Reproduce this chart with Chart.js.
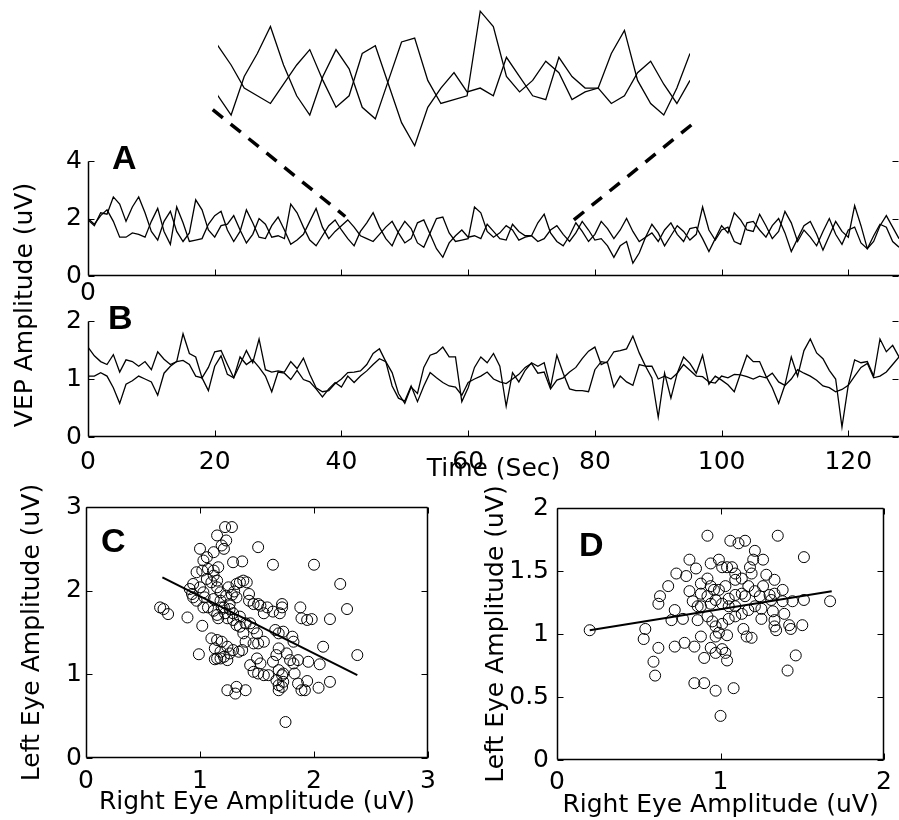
<!DOCTYPE html>
<html>
<head>
<meta charset="utf-8">
<script src="https://cdn.jsdelivr.net/npm/chart.js@4/dist/chart.umd.min.js"></script>
<style>
  body { margin: 0; background: #fff; width: 899px; height: 820px; position: relative; overflow: hidden; font-family: "DejaVu Sans", sans-serif; }
  canvas { position: absolute; }
  .panel { position: absolute; font-family: "Liberation Sans", Arial, sans-serif; font-weight: bold; font-size: 34px; line-height: 34px; color: #000; }
  .ytitle { position: absolute; width: 300px; height: 30px; line-height: 30px; text-align: center; font-size: 25px; color: #000; transform: rotate(-90deg); white-space: nowrap; }
</style>
</head>
<body>
<canvas id="inset" width="510" height="165" style="left:200px;top:0px"></canvas>
<canvas id="chartA" width="899" height="170" style="left:0px;top:140px"></canvas>
<canvas id="chartB" width="899" height="185" style="left:0px;top:300px"></canvas>
<canvas id="chartC" width="450" height="340" style="left:0px;top:480px"></canvas>
<canvas id="chartD" width="443" height="340" style="left:456px;top:480px"></canvas>
<canvas id="overlay" width="899" height="820" style="left:0px;top:0px;pointer-events:none"></canvas>
<div class="ytitle" style="left:-126px;top:290px">VEP Amplitude (uV)</div>
<div class="panel" style="left:112px;top:140px">A</div>
<div class="panel" style="left:108px;top:300px">B</div>
<div class="panel" style="left:101px;top:523px">C</div>
<div class="panel" style="left:579px;top:527px">D</div>
<script>
// samples are one second apart
const sampleStep = 1;
const timeTicks = [0, 20, 40, 60, 80, 100, 120];
const aTicks = [0, 2, 4];
const bTicks = [0, 1, 2];
const cTicks = [0, 1, 2, 3];
const dxTicks = [0, 1, 2];
const dyTicks = [0, 0.5, 1, 1.5, 2];

// panel A, two eyes
const aTrace1 = [1.95,1.75,2.20,2.15,2.75,2.50,1.90,2.40,2.75,2.20,
  1.55,1.25,1.90,2.25,1.55,1.20,1.50,2.65,2.30,1.60,
  1.35,1.75,1.80,2.10,1.60,1.15,1.45,2.00,1.80,1.35,
  1.40,1.30,2.50,2.20,1.70,1.25,1.05,1.40,1.75,1.95,
  1.60,1.30,1.05,1.55,1.85,2.20,1.70,1.30,1.05,1.55,
  1.90,1.65,1.15,1.00,1.50,2.00,2.05,1.50,1.20,1.25,
  1.30,2.40,2.20,1.55,1.35,1.50,1.75,1.60,1.25,1.35,
  1.40,1.85,2.15,1.50,1.20,1.05,1.40,1.85,1.55,1.20,
  1.45,1.90,1.65,1.30,1.60,2.00,1.55,1.20,1.35,1.80,
  1.50,1.05,1.40,1.75,1.55,1.25,1.45,2.40,1.60,1.25,
  1.60,1.70,1.20,1.10,1.85,1.90,1.60,1.35,1.75,2.00,
  1.50,0.85,1.30,1.75,1.90,1.45,0.90,1.40,1.90,1.55,
  1.35,2.45,1.75,0.95,1.20,1.75,2.10,1.70,1.30];
const aTrace2 = [2.00,1.80,2.10,2.30,1.90,1.35,1.35,1.50,1.45,1.35,
  1.90,2.35,1.55,1.10,2.40,1.85,1.20,1.25,1.30,1.80,
  2.10,2.25,1.60,1.20,1.55,2.30,1.85,1.35,1.30,1.75,
  2.05,1.60,1.10,1.25,1.45,1.90,2.35,1.70,1.30,1.55,
  1.75,1.95,1.70,1.40,1.30,1.20,1.45,1.70,1.90,1.50,
  1.15,1.30,1.85,1.95,1.45,0.95,0.65,1.15,1.40,1.60,
  1.35,1.40,1.30,1.80,1.55,1.30,1.25,1.80,1.55,1.40,
  1.40,1.20,1.30,1.60,1.75,1.45,1.20,1.50,1.90,1.60,
  1.25,1.30,1.05,0.65,1.05,1.20,0.45,0.80,1.35,1.50,
  1.20,1.60,1.85,1.45,1.20,1.65,1.70,1.30,0.85,1.30,
  1.75,1.50,2.20,1.95,1.60,1.55,2.15,1.75,1.30,1.55,
  2.25,1.85,1.20,1.60,1.35,1.05,1.55,2.00,1.45,1.10,
  1.60,1.70,1.15,0.95,1.40,1.80,1.70,1.20,1.00];

// panel B
const bTrace1 = [1.55,1.40,1.30,1.25,1.42,1.12,1.33,1.30,1.22,1.30,
  1.16,1.47,1.34,1.25,1.30,1.78,1.44,1.38,1.02,1.20,
  1.47,1.49,1.25,1.02,1.25,1.49,1.28,1.69,1.16,1.12,
  1.14,1.12,1.30,1.18,1.36,1.08,0.85,0.78,0.80,0.92,
  1.00,1.11,1.12,1.14,1.25,1.44,1.52,1.30,1.11,0.75,
  0.58,0.86,0.75,1.20,1.41,1.45,1.55,1.38,1.38,0.61,
  0.85,1.20,1.38,1.28,1.44,1.22,0.53,1.11,0.95,1.15,
  1.28,1.22,1.28,0.86,1.41,1.10,0.83,0.80,0.80,0.78,
  1.16,1.30,1.28,0.86,1.05,0.95,0.89,1.25,1.22,1.02,
  0.34,1.10,0.67,1.10,1.38,1.27,1.10,1.41,0.91,1.05,
  0.98,0.90,0.78,1.10,1.41,1.30,1.30,1.05,0.85,0.58,
  0.90,1.38,1.05,1.49,1.69,1.45,1.35,1.15,1.00,0.17,
  0.90,1.33,1.28,1.30,1.05,1.69,1.47,1.58,1.38];
const bTrace2 = [1.05,1.05,1.11,1.05,0.85,0.58,0.91,0.97,1.05,1.00,
  0.95,0.72,1.10,1.22,1.30,1.32,1.25,1.05,1.02,0.80,
  1.22,1.40,1.08,1.02,1.38,1.25,1.33,1.20,1.05,0.78,
  1.12,1.10,0.99,1.15,0.99,0.95,0.83,0.69,0.83,0.94,
  0.86,1.05,0.94,1.05,1.14,1.25,1.35,1.30,0.88,0.67,
  0.62,0.88,0.61,0.88,1.11,1.02,0.94,0.88,0.86,0.72,
  0.94,1.00,1.05,1.12,1.00,0.95,0.92,1.00,1.08,1.20,
  1.27,1.10,1.12,0.83,0.98,1.02,1.12,1.20,1.35,1.48,
  1.55,1.25,1.30,1.47,1.49,1.52,1.74,1.45,1.22,1.22,
  1.00,1.05,1.00,1.10,1.25,1.15,1.05,1.04,0.95,0.93,
  1.05,1.02,1.08,1.07,1.04,1.00,1.05,1.02,1.10,0.95,
  0.89,1.00,1.16,1.10,1.05,0.98,0.88,0.85,0.78,0.82,
  0.89,1.05,1.20,1.27,1.02,1.05,1.12,1.25,1.38];

// panel C scatter: right eye vs left eye (panel A data)
const cRight = [0.65,0.68,0.72,0.89,1.02,0.99,1.00,1.15,1.22,1.28,1.23,1.19,1.21,1.12,1.03,1.06,0.97,1.02,1.07,1.12,
  1.16,1.29,1.37,1.51,1.64,2.00,2.23,2.29,2.14,1.88,1.89,1.94,1.98,2.08,2.38,1.95,2.05,2.14,2.04,1.94,
  1.89,1.92,1.86,1.83,1.75,1.69,1.72,1.73,1.72,1.69,1.60,1.64,1.67,1.69,1.76,1.79,1.82,1.72,1.72,1.70,
  1.59,1.56,1.51,1.43,1.43,1.35,1.38,1.41,1.32,1.25,1.23,1.32,1.26,1.29,1.35,1.40,1.44,1.47,1.50,1.66,
  1.69,1.73,1.81,1.38,1.40,1.47,1.51,1.56,1.50,1.44,1.47,1.51,1.56,1.10,1.15,1.19,1.13,1.18,1.21,1.26,
  1.13,1.18,1.24,1.37,1.24,1.32,1.40,1.31,0.94,0.91,0.93,0.94,1.00,1.03,0.97,1.03,1.07,1.12,1.15,1.16,
  1.18,1.21,1.22,1.24,1.06,1.10,1.15,1.18,1.04,1.12,1.19,1.26,1.29,1.32,1.35,1.12,1.15,1.28,1.30,1.47,
  1.53,1.64,1.82,1.86,1.67,1.69,1.73,1.53,1.29,1.15,1.24,1.34];
const cLeft = [1.80,1.78,1.72,1.68,1.58,1.24,2.50,2.66,2.76,2.76,2.60,2.54,2.50,2.46,2.36,2.40,2.22,2.24,2.26,2.24,
  2.28,2.34,2.35,2.52,2.31,2.31,2.08,1.78,1.66,1.80,1.67,1.65,1.66,1.33,1.23,1.15,1.12,0.91,0.84,0.92,
  0.81,0.81,0.89,1.01,0.43,0.81,0.85,0.91,0.99,1.05,0.99,1.15,1.23,1.31,1.25,1.17,1.39,1.80,1.84,1.73,
  1.80,1.73,1.84,1.96,1.88,2.10,2.12,2.10,2.08,2.04,1.94,1.92,1.84,1.73,1.69,1.61,1.61,1.55,1.49,1.53,
  1.49,1.51,1.45,1.49,1.39,1.37,1.37,1.39,1.19,1.11,1.03,1.01,0.99,1.43,1.41,1.39,1.31,1.27,1.21,1.25,
  1.18,1.19,1.17,1.29,0.81,0.85,0.81,0.77,2.08,2.02,1.96,1.92,2.04,1.98,1.88,1.80,1.80,1.76,1.71,1.67,
  1.88,1.80,1.73,1.67,2.14,2.10,2.04,1.98,1.92,1.90,1.80,1.78,1.65,1.59,1.57,2.18,2.12,1.95,1.99,1.84,
  1.82,1.75,1.13,1.17,0.93,0.87,1.01,1.13,1.29,1.19,1.33,1.27];
const cFitRight = [0.67, 2.38];
const cFitLeft = [2.16, 0.99];

// panel D scatter (panel B data)
const dRight = [0.20,0.54,0.53,0.62,0.59,0.60,0.63,0.62,0.68,0.73,0.79,0.81,0.85,0.72,0.70,0.77,0.72,0.78,0.84,0.88,
  0.84,0.90,0.97,1.08,1.00,0.90,0.94,0.97,1.01,1.03,1.04,0.92,1.06,1.11,1.15,1.21,1.20,1.18,1.19,1.35,
  1.51,1.67,1.51,1.50,1.43,1.42,1.46,1.41,1.38,1.38,1.39,1.33,1.34,1.32,1.33,1.28,1.26,1.30,1.31,1.25,
  0.94,0.99,1.01,1.04,1.07,1.09,0.88,0.92,0.94,0.96,0.99,1.03,0.88,0.92,0.94,0.97,1.01,1.05,1.09,1.13,
  1.15,0.88,0.92,0.95,0.97,1.01,1.05,1.09,1.13,1.17,1.21,0.97,0.99,1.04,1.14,1.16,1.19,1.09,1.13,1.17,
  1.21,1.24,0.86,1.44,1.33,1.26,0.86,1.33,0.83,0.81,1.05,1.09,1.25];
const dLeft = [1.03,1.04,0.96,0.89,0.78,0.67,1.30,1.24,1.38,1.48,1.46,1.59,1.52,1.19,1.11,1.12,0.90,0.93,0.90,0.98,
  0.61,0.61,0.55,0.57,0.35,0.81,0.89,0.85,0.88,0.85,0.79,1.78,1.74,1.72,1.74,1.66,1.59,1.53,1.48,1.78,
  1.61,1.26,1.27,1.07,1.04,1.07,0.83,0.71,1.35,1.26,1.16,1.06,1.03,1.18,1.11,1.47,1.38,1.31,1.27,1.20,
  1.56,1.59,1.53,1.53,1.53,1.48,1.40,1.44,1.38,1.35,1.35,1.38,1.32,1.30,1.24,1.27,1.24,1.28,1.31,1.32,
  1.30,1.22,1.14,1.10,1.06,1.08,1.12,1.14,1.16,1.19,1.22,0.98,1.01,0.99,1.04,0.98,0.97,1.43,1.44,1.38,
  1.34,1.30,1.11,1.26,1.32,1.59,1.22,1.43,1.26,1.34,1.22,1.22,1.12];
const dFitRight = [0.20, 1.68];
const dFitLeft = [1.03, 1.34];

// zoomed window shown in the inset (seconds) and the connector anchors
const insetRange = [41, 77];
const insetY = [0.53, 2.48];
const connInset = [[40.6, 1.12], [77.1, 0.92]];
const connA = [[40.6, 2.07], [76.4, 1.90]];

Chart.defaults.font.family = "'DejaVu Sans', sans-serif";
Chart.defaults.font.size = 25;
Chart.defaults.color = '#000';
Chart.defaults.animation = false;
Chart.defaults.plugins.legend.display = false;
Chart.defaults.plugins.tooltip.enabled = false;

const toXY = arr => arr.map((v, i) => ({ x: i * sampleStep, y: v }));
const pairs = (xs, ys) => xs.map((v, i) => ({ x: v, y: ys[i] }));
const setTicks = vals => s => { s.ticks = vals.map(v => ({ value: v })); };
const plainLabel = v => String(v);

// axis lines and inward tick marks, MATLAB style
function makeFrame(lines, ticks) {
  return {
    id: 'frame',
    afterDraw(chart) {
      const { ctx, chartArea: a } = chart;
      const x = chart.scales.x, y = chart.scales.y;
      const L = Math.round(a.left) + 0.5, R = Math.round(a.right) - 0.5;
      const T = Math.round(a.top) + 0.5, B = Math.round(a.bottom) - 0.5;
      const len = 6;
      ctx.save();
      ctx.strokeStyle = '#000';
      ctx.lineWidth = 1.5;
      ctx.beginPath();
      if (lines.includes('left')) { ctx.moveTo(L, T); ctx.lineTo(L, B); }
      if (lines.includes('bottom')) { ctx.moveTo(L, B); ctx.lineTo(R + 1, B); }
      if (lines.includes('top')) { ctx.moveTo(L, T); ctx.lineTo(R, T); }
      if (lines.includes('right')) { ctx.moveTo(R, T); ctx.lineTo(R, B); }
      ctx.stroke();
      ctx.lineWidth = 1;
      ctx.beginPath();
      x.ticks.forEach(t => {
        const p = Math.round(x.getPixelForValue(t.value)) + 0.5;
        if (ticks.includes('bottom')) { ctx.moveTo(p, B); ctx.lineTo(p, B - len); }
        if (ticks.includes('top')) { ctx.moveTo(p, T); ctx.lineTo(p, T + len); }
      });
      y.ticks.forEach(t => {
        const p = Math.round(y.getPixelForValue(t.value)) + 0.5;
        if (ticks.includes('left')) { ctx.moveTo(L, p); ctx.lineTo(L + len, p); }
        if (ticks.includes('right')) { ctx.moveTo(R, p); ctx.lineTo(R - len, p); }
      });
      ctx.stroke();
      ctx.restore();
    }
  };
}

const traceStyle = { borderColor: '#000', borderWidth: 1.3, pointRadius: 0, tension: 0, fill: false };
const noGrid = { display: false, drawTicks: false };

function timeChart(id, t1, t2, yMax, yTicks, opt) {
  return new Chart(document.getElementById(id), {
    type: 'line',
    data: { datasets: [
      Object.assign({ data: toXY(t1) }, traceStyle),
      Object.assign({ data: toXY(t2) }, traceStyle)
    ] },
    options: {
      responsive: false,
      layout: { autoPadding: false, padding: { top: opt.top, right: 0, bottom: 0, left: 0 } },
      scales: {
        x: {
          type: 'linear', min: 0, max: 128,
          grid: noGrid, border: { display: false },
          afterBuildTicks: setTicks(timeTicks),
          afterFit: s => { s.height = opt.xh; },
          ticks: { padding: opt.xpad, autoSkip: false, maxRotation: 0, callback: opt.xlabel },
          title: opt.xtitle
        },
        y: {
          min: 0, max: yMax,
          grid: noGrid, border: { display: false },
          afterBuildTicks: setTicks(yTicks),
          afterFit: s => { s.width = 88; },
          ticks: { padding: 6, callback: plainLabel }
        }
      }
    },
    plugins: [makeFrame(['left', 'bottom'], ['left', 'bottom', 'right'])]
  });
}

const chartA = timeChart('chartA', aTrace1, aTrace2, 4, aTicks, {
  top: 14, xh: 34, xpad: 2, xlabel: v => (v === 0 ? '0' : ''), xtitle: { display: false }
});
timeChart('chartB', bTrace1, bTrace2, 2, bTicks, {
  top: 16, xh: 48, xpad: 10, xlabel: plainLabel,
  xtitle: { display: true, text: 'Time (Sec)', padding: { top: 0, bottom: 1 } }
});

// inset: enlarged piece of panel A
const inset = new Chart(document.getElementById('inset'), {
  type: 'line',
  data: { datasets: [
    Object.assign({ data: toXY(aTrace1) }, traceStyle),
    Object.assign({ data: toXY(aTrace2) }, traceStyle)
  ] },
  options: {
    responsive: false,
    layout: { autoPadding: false, padding: { top: 5, right: 20, bottom: 10, left: 18 } },
    scales: {
      x: { type: 'linear', display: false, min: insetRange[0], max: insetRange[1] },
      y: { display: false, min: insetY[0], max: insetY[1] }
    }
  }
});

function scatterChart(id, xs, ys, fitX, fitY, o) {
  return new Chart(document.getElementById(id), {
    type: 'scatter',
    data: { datasets: [
      { data: pairs(xs, ys), pointStyle: 'circle', pointRadius: 5.5, borderColor: '#000', borderWidth: 1, backgroundColor: 'rgba(0,0,0,0)' },
      { type: 'line', data: pairs(fitX, fitY), showLine: true, borderColor: '#000', borderWidth: 2, pointRadius: 0 }
    ] },
    options: {
      responsive: false,
      layout: { autoPadding: false, padding: { top: o.top, right: o.right, bottom: 0, left: 0 } },
      scales: {
        x: {
          type: 'linear', min: 0, max: o.xMax,
          grid: noGrid, border: { display: false },
          afterBuildTicks: setTicks(o.xTicks),
          afterFit: s => { s.height = o.xh; },
          ticks: { padding: o.xpad, autoSkip: false, maxRotation: 0, callback: plainLabel },
          title: { display: true, text: 'Right Eye Amplitude (uV)', padding: { top: 0, bottom: o.xtp } }
        },
        y: {
          min: 0, max: o.yMax,
          grid: noGrid, border: { display: false },
          afterBuildTicks: setTicks(o.yTicks),
          afterFit: s => { s.width = o.yw; },
          ticks: { padding: o.ypad, callback: plainLabel },
          title: { display: true, text: 'Left Eye Amplitude (uV)', padding: { top: o.ytp, bottom: 0 } }
        }
      }
    },
    plugins: [makeFrame(['left', 'bottom', 'top', 'right'], ['left', 'bottom', 'top', 'right'])]
  });
}

scatterChart('chartC', cRight, cLeft, cFitRight, cFitLeft, {
  top: 27, right: 22, xMax: 3, yMax: 3, xTicks: cTicks, yTicks: cTicks, xh: 62, yw: 86, xpad: 8, xtp: 3, ytp: 17, ypad: 4
});
scatterChart('chartD', dRight, dLeft, dFitRight, dFitLeft, {
  top: 28, right: 1, xMax: 2, yMax: 2, xTicks: dxTicks, yTicks: dyTicks, xh: 60, yw: 101, xpad: 7, xtp: 0, ytp: 25, ypad: 8
});

// dashed connectors from the inset down to panel A
(function drawConnectors() {
  const ctx = document.getElementById('overlay').getContext('2d');
  const ix = inset.scales.x, iy = inset.scales.y, ax = chartA.scales.x, ay = chartA.scales.y;
  ctx.save();
  ctx.strokeStyle = '#000';
  ctx.lineWidth = 3.5;
  ctx.setLineDash([13, 10]);
  for (let i = 0; i < 2; i++) {
    ctx.beginPath();
    ctx.moveTo(200 + ix.getPixelForValue(connInset[i][0]), iy.getPixelForValue(connInset[i][1]));
    ctx.lineTo(ax.getPixelForValue(connA[i][0]), 140 + ay.getPixelForValue(connA[i][1]));
    ctx.stroke();
  }
  ctx.restore();
})();
</script>
</body>
</html>
